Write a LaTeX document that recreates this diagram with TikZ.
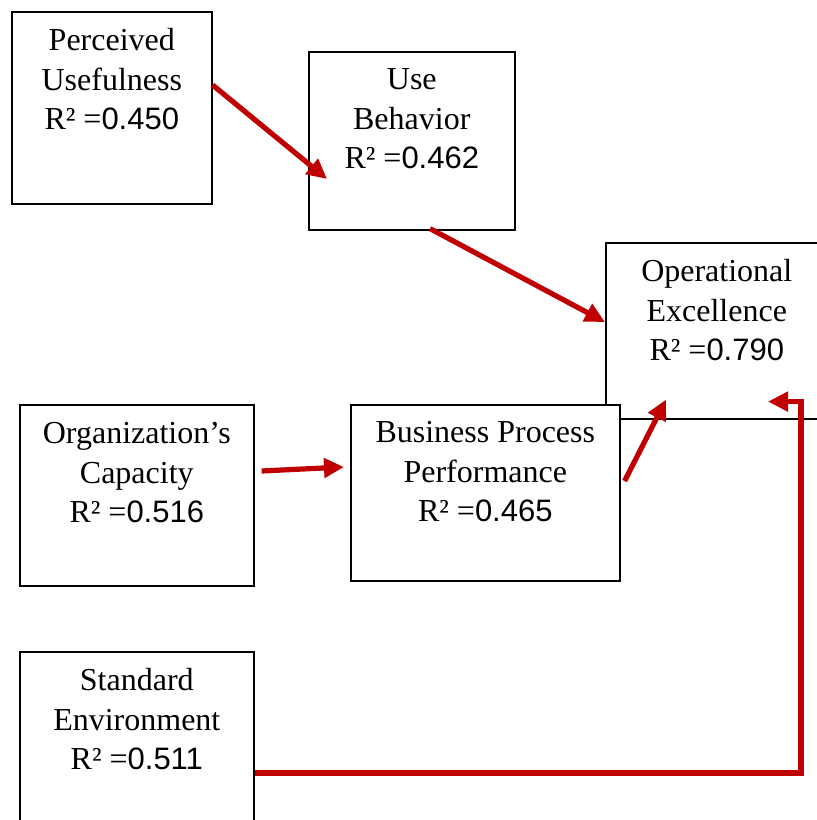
\documentclass[tikz,border=0pt]{standalone}
\usepackage{fontspec}
\setmainfont{Liberation Serif}
\newfontfamily\numfont{Liberation Sans}
\usetikzlibrary{arrows.meta,calc}
\definecolor{pathred}{HTML}{C00000}
% R-squared line: serif label, sans-serif value
\newcommand\rsqval[1]{R² ={\fontsize{31}{39.5}\selectfont\numfont #1}}
\tikzset{
  box/.style={draw=black, line width=1.6pt, fill=white, rectangle, inner sep=0pt, anchor=north west},
  lbl/.style={anchor=north, align=center, inner sep=0pt, font=\fontsize{32}{39.5}\selectfont},
  arr/.style={draw=pathred, line width=5.2pt, line join=miter, -{Triangle[length=20pt,width=19pt]}}
}
\begin{document}
\begin{tikzpicture}[x=1pt,y=-1pt]
\useasboundingbox (0,0) rectangle (817,820);
\clip (0,0) rectangle (817,820);
% boxes
\node[box, minimum width=200pt, minimum height=192pt] (pu) at (11,11) {};
\node[box, minimum width=206pt, minimum height=178pt] (ub) at (308,51) {};
\node[box, minimum width=222pt, minimum height=176pt] (oe) at (605,242) {};
\node[box, minimum width=269pt, minimum height=176pt] (bpp) at (350,404) {};
\node[box, minimum width=234pt, minimum height=181pt] (oc) at (19,404) {};
\node[box, minimum width=234pt, minimum height=185pt] (se) at (19,651) {};
% box texts
\node[lbl] (pu-t) at ($(pu.north)+(0,12)$) {\strut Perceived\\Usefulness\\\rsqval{0.450}};
\node[lbl] (ub-t) at ($(ub.north)+(0,11)$) {\strut Use\\Behavior\\\rsqval{0.462}};
\node[lbl] (oe-t) at ($(oe.north)+(0,12)$) {\strut Operational\\Excellence\\\rsqval{0.790}};
\node[lbl] (bpp-t) at ($(bpp.north)+(0,11)$) {\strut Business Process\\Performance\\\rsqval{0.465}};
\node[lbl] (oc-t) at ($(oc.north)+(0,12)$) {\strut Organization’s\\Capacity\\\rsqval{0.516}};
\node[lbl] (se-t) at ($(se.north)+(0,12)$) {\strut Standard\\Environment\\\rsqval{0.511}};
% paths
\draw[arr] ($(pu.north east)+(0,74)$) -- ($(ub.north west)+(19,128)$);
\draw[arr] ($(ub.south west)+(122,-2)$) -- ($(oe.north west)+(0,80)$);
\draw[arr] ($(oc.north east)+(7,67)$) -- ($(bpp.north west)+(-6,63)$);
\draw[arr] ($(bpp.north east)+(4,77)$) -- ($(oe.south west)+(61,-20)$);
\coordinate (corner) at ($(oe.south west)+(196,-18)$);
\draw[arr] ($(se.north east)+(0,122)$) -| (corner) -- ($(oe.south west)+(163,-18)$);
\end{tikzpicture}
\end{document}
